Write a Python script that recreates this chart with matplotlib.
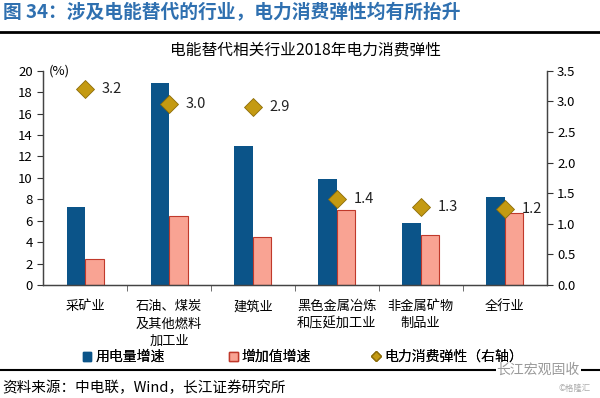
import matplotlib.pyplot as plt
import numpy as np
from matplotlib.lines import Line2D
from matplotlib.patches import Patch

plt.rcParams['font.family'] = ['Noto Sans CJK SC', 'DejaVu Sans']

categories = ['采矿业', '石油、煤炭\n及其他燃料\n加工业', '建筑业',
              '黑色金属冶炼\n和压延加工业', '非金属矿物\n制品业', '全行业']
power_growth = [7.3, 18.9, 13.0, 9.9, 5.8, 8.2]
value_added_growth = [2.4, 6.4, 4.5, 7.0, 4.7, 6.7]
elasticity = [3.2, 3.0, 2.9, 1.4, 1.3, 1.2]
elasticity_pos = [3.2, 2.96, 2.91, 1.41, 1.28, 1.24]

blue = '#0b5489'
pink = '#f9a393'
pink_edge = '#c0392b'
gold = '#c49a12'
gold_edge = '#8c6c08'

fig = plt.figure(figsize=(6, 3.98), dpi=100)
ax = fig.add_axes([0.072, 0.284, 0.839, 0.538])
ax2 = ax.twinx()

x = np.arange(len(categories))
w = 0.22
ax.bar(x - w / 2, power_growth, w, color=blue, zorder=2)
ax.bar(x + w / 2, value_added_growth, w, color=pink, edgecolor=pink_edge, linewidth=0.8, zorder=2)

ax2.plot(x, elasticity_pos, linestyle='none', marker='D', markersize=9,
         color=gold, markeredgecolor=gold_edge, markeredgewidth=0.6, zorder=3)
for xi, yi, v in zip(x, elasticity_pos, elasticity):
    ax2.text(xi + 0.2, yi, f'{v:.1f}', va='center', ha='left', fontsize=10.5, color='#222222')

ax.set_xlim(-0.5, 5.5)
ax.set_ylim(0, 20)
ax.set_yticks(range(0, 21, 2))
ax2.set_ylim(0, 3.5)
ax2.set_yticks(np.arange(0, 3.51, 0.5))
ax2.set_yticklabels([f'{v:.1f}' for v in np.arange(0, 3.51, 0.5)])

ax.set_xticks(x)
ax.set_xticklabels(categories, fontsize=9.5, linespacing=1.42)
ax.set_xticks(np.arange(0.5, 5, 1), minor=True)
ax.tick_params(axis='x', which='major', length=0, pad=11)
ax.tick_params(axis='x', which='minor', length=4, direction='out', color='#555555')
ax.tick_params(axis='y', length=4, direction='out', labelsize=9.5, color='#333333')
ax2.tick_params(axis='y', length=4, direction='out', labelsize=9.5, color='#333333')

for a in (ax, ax2):
    a.spines['top'].set_visible(False)
    for s in ('left', 'right', 'bottom'):
        a.spines[s].set_color('#444444')
        a.spines[s].set_linewidth(0.9)

ax.text(0.012, 1.0, '(%)', transform=ax.transAxes, fontsize=9.5, va='center', ha='left')

fig.text(0.005, 0.968, '图 34：涉及电能替代的行业，电力消费弹性均有所抬升',
         fontsize=13.5, color='#2f70b0', fontweight='bold', va='center', ha='left')
fig.add_artist(Line2D([0, 1], [0.920, 0.920], color='black', linewidth=2))
fig.text(0.51, 0.874, '电能替代相关行业2018年电力消费弹性', fontsize=11.3, ha='center', va='center')

handles = [Patch(facecolor=blue, edgecolor=blue),
           Patch(facecolor=pink, edgecolor=pink_edge),
           Line2D([], [], linestyle='none', marker='D', markersize=5, color=gold, markeredgecolor=gold_edge)]
labels = ['用电量增速', '增加值增速', '电力消费弹性（右轴）']
legend_x = [0.138, 0.382, 0.619]
for h, lab, lx in zip(handles, labels, legend_x):
    leg = fig.legend([h], [lab], loc='center left', bbox_to_anchor=(lx, 0.103), frameon=False,
                     fontsize=10, handlelength=0.6, handleheight=0.6, handletextpad=0.3,
                     borderpad=0, borderaxespad=0)
    fig.add_artist(leg)

fig.add_artist(Line2D([0, 1], [0.071, 0.071], color='black', linewidth=1.5))
fig.text(0.897, 0.071, '长江宏观固收', fontsize=10, color='#9a9a9a', ha='center', va='center',
         bbox=dict(facecolor='white', edgecolor='none', pad=0.5))
fig.text(0.003, 0.025, '资料来源：中电联，Wind，长江证券研究所', fontsize=10.5, ha='left', va='center')
fig.text(0.985, 0.025, '©格隆汇', fontsize=6, color='#aaaaaa', ha='right', va='center')

fig.savefig('out.png', dpi=100)
